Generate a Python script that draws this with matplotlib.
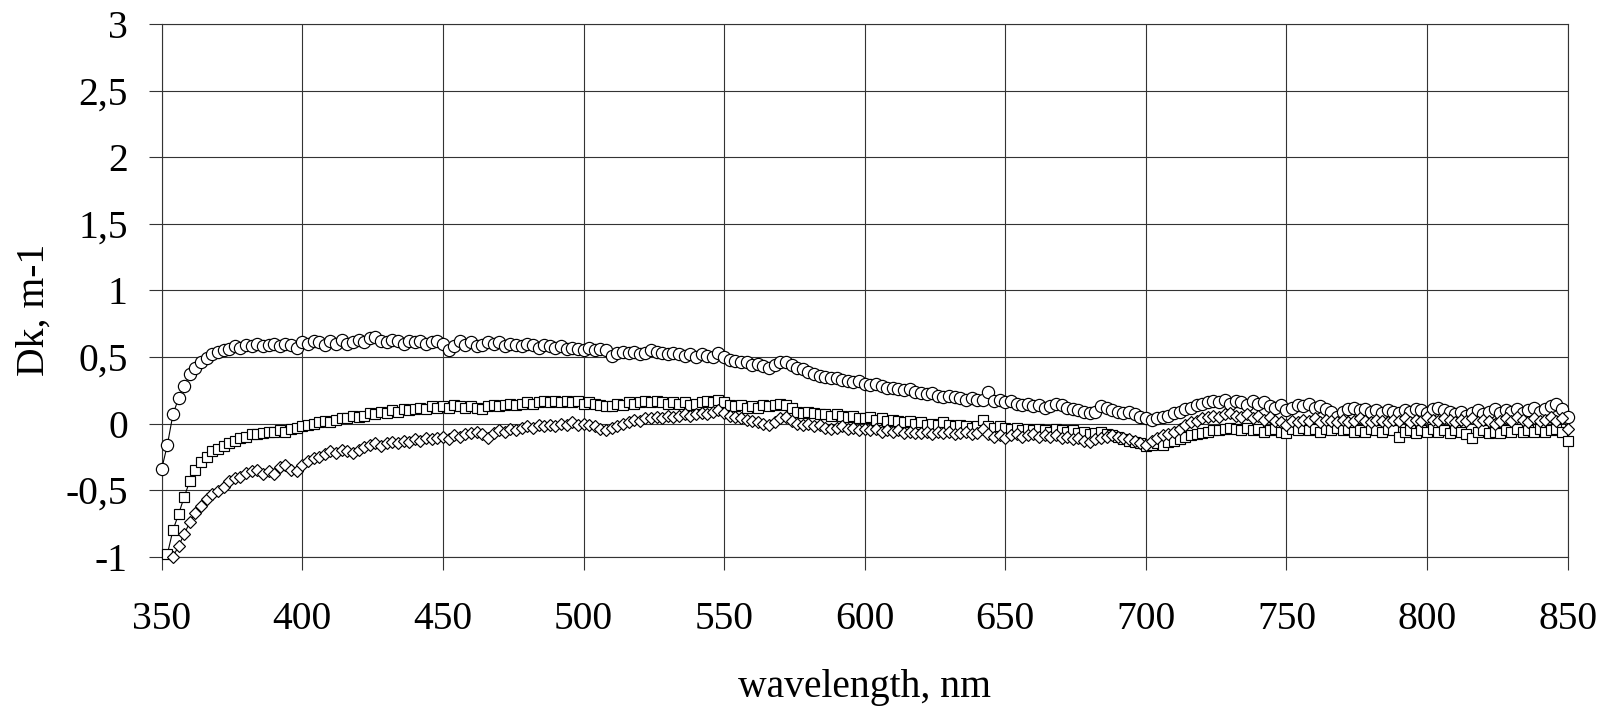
"""Dk spectra against wavelength: three series drawn with hollow markers."""

import numpy as np
import matplotlib

matplotlib.use("Agg")
import matplotlib.pyplot as plt
from matplotlib.ticker import FixedLocator, FuncFormatter

nan = np.nan

# wavelength grid, nm (step 2 nm)
wavelength = np.arange(350, 851, 2)

# one row = 20 nm
dk_circle = [
    -0.34, -0.16, 0.07, 0.19, 0.28, 0.37, 0.42, 0.46, 0.49, 0.52,
    0.54, 0.55, 0.56, 0.58, 0.57, 0.59, 0.58, 0.60, 0.58, 0.59,
    0.60, 0.58, 0.60, 0.59, 0.57, 0.61, 0.60, 0.62, 0.61, 0.59,
    0.62, 0.60, 0.63, 0.60, 0.61, 0.63, 0.61, 0.64, 0.65, 0.62,
    0.61, 0.63, 0.62, 0.60, 0.62, 0.61, 0.62, 0.60, 0.61, 0.62,
    0.60, 0.55, 0.58, 0.62, 0.59, 0.61, 0.58, 0.59, 0.61, 0.60,
    0.61, 0.58, 0.60, 0.59, 0.58, 0.60, 0.59, 0.57, 0.59, 0.58,
    0.57, 0.58, 0.56, 0.57, 0.56, 0.55, 0.57, 0.55, 0.56, 0.55,
    0.51, 0.53, 0.54, 0.53, 0.54, 0.52, 0.53, 0.55, 0.54, 0.53,
    0.52, 0.53, 0.52, 0.51, 0.52, 0.50, 0.52, 0.51, 0.50, 0.53,
    0.50, 0.48, 0.47, 0.46, 0.46, 0.44, 0.45, 0.43, 0.42, 0.44,
    0.46, 0.46, 0.44, 0.42, 0.41, 0.39, 0.37, 0.36, 0.35, 0.34,
    0.34, 0.33, 0.32, 0.31, 0.32, 0.30, 0.29, 0.30, 0.28, 0.27,
    0.27, 0.26, 0.25, 0.26, 0.24, 0.23, 0.22, 0.23, 0.21, 0.20,
    0.21, 0.20, 0.19, 0.18, 0.19, 0.18, 0.18, 0.24, 0.17, 0.18,
    0.16, 0.17, 0.15, 0.14, 0.15, 0.13, 0.14, 0.12, 0.13, 0.15,
    0.14, 0.12, 0.11, 0.10, 0.09, 0.08, 0.09, 0.13, 0.12, 0.10,
    0.09, 0.08, 0.09, 0.07, 0.05, 0.04, 0.03, 0.04, 0.05, 0.06,
    0.08, 0.09, 0.11, 0.12, 0.14, 0.15, 0.16, 0.17, 0.16, 0.18,
    0.15, 0.17, 0.16, 0.14, 0.17, 0.15, 0.16, 0.13, 0.12, 0.14,
    0.10, 0.12, 0.14, 0.13, 0.15, 0.12, 0.13, 0.11, 0.09, 0.05,
    0.09, 0.11, 0.12, 0.10, 0.11, 0.09, 0.10, 0.08, 0.10, 0.09,
    0.08, 0.10, 0.09, 0.11, 0.10, 0.08, 0.11, 0.12, 0.10, 0.09,
    0.07, 0.09, 0.06, 0.08, 0.10, 0.07, 0.09, 0.11, 0.08, 0.10,
    0.09, 0.11, 0.08, 0.10, 0.12, 0.09, 0.11, 0.13, 0.15, 0.11,
    0.05,
]

dk_square = [
    nan, -0.98, -0.80, -0.68, -0.55, -0.43, -0.35, -0.29, -0.25, -0.21,
    -0.19, -0.17, -0.15, -0.13, -0.11, -0.10, -0.08, -0.08, -0.07, -0.06,
    -0.06, -0.05, -0.06, -0.04, -0.03, -0.02, -0.01, 0.00, 0.01, 0.02,
    0.01, 0.03, 0.04, 0.04, 0.06, 0.05, 0.06, 0.08, 0.07, 0.09,
    0.08, 0.10, 0.09, 0.11, 0.10, 0.11, 0.12, 0.11, 0.13, 0.12,
    0.13, 0.12, 0.14, 0.13, 0.12, 0.13, 0.12, 0.11, 0.13, 0.14,
    0.13, 0.14, 0.15, 0.14, 0.15, 0.16, 0.15, 0.16, 0.17, 0.16,
    0.17, 0.16, 0.17, 0.16, 0.17, 0.15, 0.16, 0.15, 0.14, 0.13,
    0.13, 0.15, 0.14, 0.16, 0.15, 0.16, 0.17, 0.16, 0.17, 0.16,
    0.15, 0.16, 0.15, 0.16, 0.14, 0.15, 0.16, 0.17, 0.16, 0.18,
    0.16, 0.14, 0.13, 0.14, 0.12, 0.13, 0.12, 0.14, 0.13, 0.14,
    0.15, 0.14, 0.12, 0.09, 0.08, 0.09, 0.08, 0.07, 0.07, 0.06,
    0.07, 0.06, 0.05, 0.06, 0.04, 0.04, 0.05, 0.03, 0.04, 0.02,
    0.03, 0.02, 0.01, 0.02, 0.00, 0.01, -0.01, 0.00, -0.01, 0.01,
    -0.01, -0.02, -0.01, -0.02, -0.03, -0.02, 0.03, -0.02, -0.03, -0.02,
    -0.03, -0.04, -0.03, -0.05, -0.04, -0.05, -0.04, -0.05, -0.06, -0.04,
    -0.05, -0.06, -0.05, -0.07, -0.06, -0.08, -0.07, -0.06, -0.08, -0.09,
    -0.10, -0.12, -0.13, -0.14, -0.15, -0.17, -0.16, -0.15, -0.16, -0.14,
    -0.13, -0.12, -0.10, -0.09, -0.08, -0.07, -0.06, -0.05, -0.05, -0.04,
    -0.03, -0.04, -0.05, -0.03, -0.05, -0.04, -0.06, -0.05, -0.04, -0.06,
    -0.07, -0.04, -0.05, -0.03, -0.05, -0.04, -0.06, -0.04, -0.05, -0.03,
    -0.05, -0.04, -0.06, -0.05, -0.06, -0.04, -0.05, -0.06, -0.04, -0.05,
    -0.10, -0.06, -0.05, -0.07, -0.05, -0.06, -0.04, -0.06, -0.05, -0.07,
    -0.05, -0.06, -0.08, -0.11, -0.06, -0.05, -0.07, -0.06, -0.07, -0.05,
    -0.06, -0.04, -0.06, -0.05, -0.06, -0.04, -0.06, -0.05, -0.04, -0.06,
    -0.13,
]

dk_diamond = [
    nan, nan, -1.00, -0.92, -0.83, -0.74, -0.67, -0.62, -0.57, -0.53,
    -0.51, -0.48, -0.43, -0.41, -0.40, -0.37, -0.36, -0.35, -0.38, -0.36,
    -0.38, -0.33, -0.31, -0.35, -0.36, -0.31, -0.28, -0.26, -0.25, -0.23,
    -0.21, -0.22, -0.20, -0.21, -0.22, -0.20, -0.18, -0.16, -0.15, -0.17,
    -0.15, -0.14, -0.15, -0.13, -0.14, -0.12, -0.13, -0.11, -0.12, -0.11,
    -0.10, -0.12, -0.09, -0.10, -0.08, -0.07, -0.06, -0.08, -0.11, -0.07,
    -0.05, -0.06, -0.04, -0.05, -0.03, -0.02, -0.03, -0.01, -0.02, -0.01,
    -0.02, 0.00, -0.01, 0.01, -0.01, 0.00, -0.01, -0.02, -0.04, -0.05,
    -0.03, -0.02, 0.00, 0.01, 0.03, 0.02, 0.04, 0.04, 0.05, 0.04,
    0.06, 0.05, 0.06, 0.07, 0.06, 0.07, 0.08, 0.07, 0.09, 0.10,
    0.08, 0.06, 0.05, 0.04, 0.03, 0.02, 0.01, 0.00, -0.01, 0.01,
    0.04, 0.05, 0.02, 0.00, -0.01, 0.00, -0.02, -0.01, -0.03, -0.04,
    -0.03, -0.02, -0.04, -0.03, -0.05, -0.04, -0.05, -0.04, -0.06, -0.05,
    -0.06, -0.05, -0.07, -0.06, -0.07, -0.07, -0.06, -0.08, -0.06, -0.07,
    -0.06, -0.08, -0.07, -0.06, -0.08, -0.07, -0.04, -0.08, -0.10, -0.09,
    -0.11, -0.09, -0.08, -0.10, -0.09, -0.08, -0.10, -0.09, -0.10, -0.09,
    -0.11, -0.10, -0.12, -0.11, -0.13, -0.14, -0.12, -0.11, -0.10, -0.09,
    -0.10, -0.11, -0.12, -0.13, -0.15, -0.16, -0.13, -0.11, -0.09, -0.08,
    -0.06, -0.04, -0.01, 0.01, 0.02, 0.04, 0.05, 0.06, 0.05, 0.07,
    0.08, 0.06, 0.05, 0.07, 0.04, 0.06, 0.03, 0.05, 0.02, 0.01,
    -0.01, 0.02, 0.01, 0.03, 0.02, 0.04, 0.01, 0.03, 0.02, 0.01,
    0.03, 0.01, 0.02, 0.04, 0.02, 0.01, 0.03, 0.02, 0.01, 0.03,
    0.02, 0.04, 0.01, 0.03, 0.02, 0.05, 0.03, 0.02, 0.04, 0.03,
    0.01, 0.03, 0.02, 0.04, 0.01, 0.03, 0.02, 0.00, 0.02, 0.04,
    0.02, 0.05, 0.03, 0.01, 0.04, 0.02, 0.03, 0.05, 0.02, 0.04,
    -0.04,
]

x_ticks = [350, 400, 450, 500, 550, 600, 650, 700, 750, 800, 850]
y_ticks = [-1, -0.5, 0, 0.5, 1, 1.5, 2, 2.5, 3]

LINE = "#333333"
FONT = ["Liberation Serif", "DejaVu Serif"]
FONT_SIZE = 28.5


def _comma_decimal(value, _pos):
    """Format tick values with a decimal comma, as in the source chart."""
    return f"{value:g}".replace(".", ",")


def main():
    plt.rcParams["font.family"] = FONT

    fig = plt.figure(figsize=(16.11, 7.07), dpi=100)
    ax = fig.add_axes([0.1004, 0.2126, 0.8727, 0.7535])

    series = [
        (dk_square, "s", 7.8),
        (dk_circle, "o", 8.8),
        (dk_diamond, "D", 6.0),
    ]
    for values, marker, size in series:
        ax.plot(
            wavelength,
            values,
            color="black",
            linewidth=0.8,
            marker=marker,
            markersize=size,
            markerfacecolor="white",
            markeredgecolor="black",
            markeredgewidth=0.85,
            clip_on=False,
            zorder=3,
        )

    ax.set_xlim(350, 850)
    ax.set_ylim(-1, 3)
    ax.xaxis.set_major_locator(FixedLocator(x_ticks))
    ax.yaxis.set_major_locator(FixedLocator(y_ticks))
    ax.yaxis.set_major_formatter(FuncFormatter(_comma_decimal))

    ax.grid(True, color=LINE, linewidth=0.8)
    for spine in ax.spines.values():
        spine.set_color(LINE)
        spine.set_linewidth(0.8)

    ax.tick_params(axis="both", direction="out", length=9.4, width=0.8,
                   color=LINE, labelsize=FONT_SIZE)
    ax.tick_params(axis="x", pad=22.5)
    ax.tick_params(axis="y", pad=15)

    fig.text(864.7 / 1611, 1 - 696.7 / 707, "wavelength, nm",
             ha="center", va="baseline", fontsize=FONT_SIZE)
    fig.text(34 / 1611, 1 - 309.8 / 707, "Dk, m-1", rotation=90,
             ha="center", va="center", fontsize=FONT_SIZE)

    fig.savefig("out.png", dpi=100)
    plt.close(fig)


if __name__ == "__main__":
    main()
